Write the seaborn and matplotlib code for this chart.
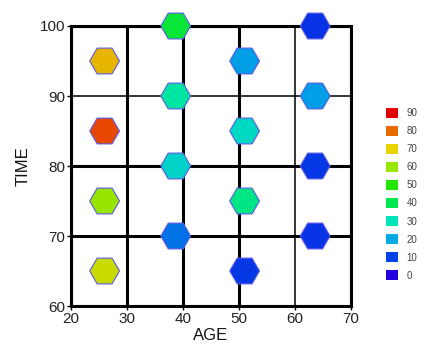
import numpy as np
import pandas as pd
import seaborn as sns
import matplotlib.pyplot as plt
from matplotlib.colors import LinearSegmentedColormap
from matplotlib.patches import Patch

# data
age = [26, 26, 26, 26, 38.7, 38.7, 38.7, 38.7, 51, 51, 51, 51, 63.6, 63.6, 63.6, 63.6]
time = [95, 85, 75, 65, 100, 90, 80, 70, 95, 85, 75, 65, 100, 90, 80, 70]
value = [73, 83, 60, 66, 43, 32, 27, 15, 19, 28, 35, 9, 8, 19, 9, 8]

legend_levels = [90, 80, 70, 60, 50, 40, 30, 20, 10, 0]
level_colors = ['#e60000', '#e86a00', '#e6d400', '#98e600', '#20e600',
                '#00e650', '#00e6b8', '#00a8e6', '#0040e6', '#2000e0']

xticks = [20, 30, 40, 50, 60, 70]
yticks = [60, 70, 80, 90, 100]

df = pd.DataFrame({'AGE': age, 'TIME': time, 'value': value})

cmap = LinearSegmentedColormap.from_list(
    'rainbow10', list(zip([v / 90 for v in legend_levels[::-1]], level_colors[::-1])))

sns.set_style('white')
plt.rcParams['font.family'] = ['Liberation Sans', 'DejaVu Sans']

fig = plt.figure(figsize=(4.38, 3.46), dpi=100)
ax = fig.add_axes([71 / 438, 1 - 306 / 346, 280 / 438, 280 / 346])

sns.scatterplot(data=df, x='AGE', y='TIME', hue='value', palette=cmap, hue_norm=(0, 90),
                marker='H', s=460, edgecolor='#5a5ae6', linewidth=0.8,
                legend=False, ax=ax, clip_on=False, zorder=4)

ax.set_xlim(20, 70)
ax.set_ylim(60, 100)
ax.set_xticks(xticks)
ax.set_yticks(yticks)
ax.grid(True, color='black')
thick, thin = 2.2, 1.1
for tick, line in zip(xticks, ax.xaxis.get_gridlines()):
    line.set_linewidth(thin if tick == 60 else thick)
for tick, line in zip(yticks, ax.yaxis.get_gridlines()):
    line.set_linewidth(thin if tick == 90 else thick)
for sp in ax.spines.values():
    sp.set_color('black')
    sp.set_linewidth(2.2)
ax.tick_params(axis='both', length=3, width=1, color='black', labelsize=11,
               labelcolor='#222222', pad=1, direction='out', left=True, bottom=True)
ax.set_xlabel('AGE', fontsize=12, labelpad=2, color='#111111')
ax.set_ylabel('TIME', fontsize=12, labelpad=7, color='#111111')

handles = [Patch(facecolor=c, edgecolor='none') for c in level_colors]
fig.legend(handles, [str(v) for v in legend_levels], loc='upper left',
           bbox_to_anchor=(386 / 438, 1 - 108 / 346), frameon=False, fontsize=7,
           handlelength=1.2, handleheight=1.2, labelspacing=0.8, handletextpad=0.9,
           borderpad=0, borderaxespad=0, labelcolor='#444444')

fig.savefig('out.png', dpi=100)
